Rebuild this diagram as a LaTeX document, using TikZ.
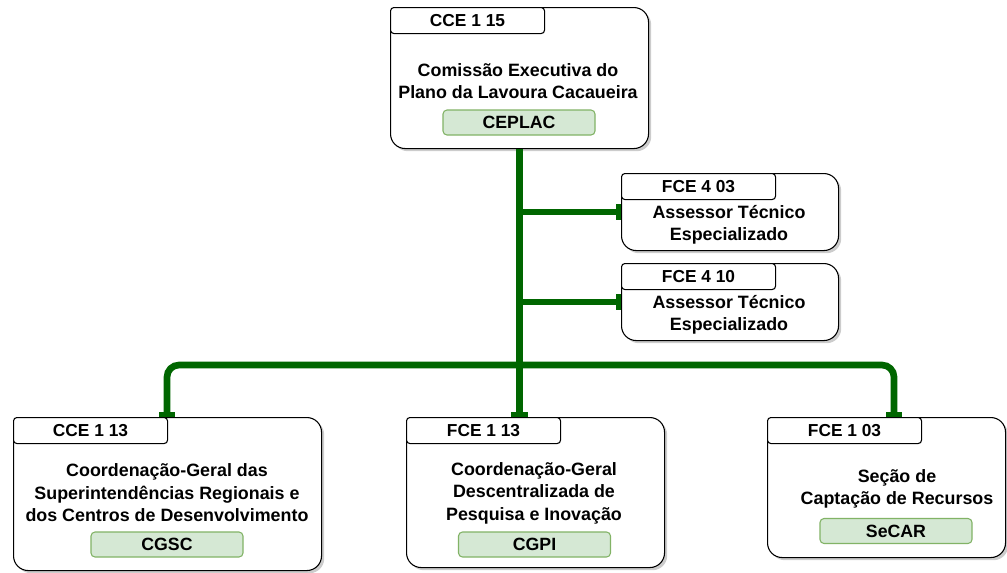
\documentclass[tikz,border=0pt]{standalone}
\usepackage{fontspec}
\setmainfont{Liberation Sans}
\usepackage{xcolor}
\usepackage{tikz}
\usetikzlibrary{positioning}
\usetikzlibrary{shadows}
\usetikzlibrary{arrows.meta}
\definecolor{VerdeCEPLAC}{HTML}{006600}
\definecolor{VerdeSigla}{HTML}{D5E8D4}
\definecolor{BordaSigla}{HTML}{82B366}

\begin{document}
\begin{tikzpicture}[
  x = .75pt, y = -.75pt,
  every node/.style = {font = \fontsize{13}{16.5}\selectfont\bfseries},
  unidade/.style 2 args = {
      draw, line width = .8pt, fill = white, rounded corners = 11pt,
      anchor = north west, inner sep = 0pt,
      minimum width = #1*.75pt, minimum height = #2*.75pt,
      drop shadow = {shadow xshift = 2pt, shadow yshift = -2pt, fill = black!40}
  },
  codigo/.style = {
      draw, line width = .8pt, fill = white, rounded corners = 2.5pt,
      anchor = north west, inner sep = 0pt,
      minimum width = 115.5pt, minimum height = 19.5pt
  },
  nome/.style = {align = center, inner sep = 0pt,
      font = \fontsize{13.4}{16.8}\selectfont\bfseries},
  sigla/.style = {
      draw = BordaSigla, line width = .8pt, fill = VerdeSigla, rounded corners = 3pt,
      inner sep = 0pt, minimum width = 114pt, minimum height = 18.75pt,
      font = \fontsize{13.3}{16}\selectfont\bfseries
  },
  ligacao/.style = {
      draw = VerdeCEPLAC, line width = 5pt,
      -{Rectangle[length = 3.5pt, width = 12.5pt, line width = 0pt]}
  }
]
  \useasboundingbox (0, 0) rectangle (1007, 572);

  % topo
  \node[unidade = {258}{141}] (ceplacBox) at (390, 7) {};
  \node[codigo] (ceplacCod) at (ceplacBox.north west) {CCE 1 15};
  \node[nome] (ceplacNome) at (518, 81) {Comissão Executiva do\\Plano da Lavoura Cacaueira};
  \node[sigla] (ceplac) at (519, 122.5) {CEPLAC};

  % assessores
  \foreach \n/\cod/\y in {1/FCE 4 03/173, 2/FCE 4 10/263} {
    \node[unidade = {217}{77}] (ast\n) at (621, \y) {};
    \node[codigo] (ast\n Cod) at (ast\n.north west) {\cod};
    \node[nome] (ast\n Nome) at (729, \y + 51.5) {Assessor Técnico\\Especializado};
  }

  % coordenacoes
  \node[unidade = {308}{153}] (cgscBox) at (13, 417) {};
  \node[codigo] (cgscCod) at (cgscBox.north west) {CCE 1 13};
  \node[nome] (cgscNome) at (167, 493) {Coordenação-Geral das\\Superintendências Regionais e\\dos Centros de Desenvolvimento};
  \node[sigla] (cgsc) at (167, 544.5) {CGSC};

  \node[unidade = {258}{150}] (cgpiBox) at (406, 417) {};
  \node[codigo] (cgpiCod) at (cgpiBox.north west) {FCE 1 13};
  \node[nome] (cgpiNome) at (534, 493) {Coordenação-Geral\\Descentralizada de\\Pesquisa e Inovação};
  \node[sigla] (cgpi) at (534.5, 544.5) {CGPI};

  \node[unidade = {238}{140}] (secarBox) at (767, 417) {};
  \node[codigo] (secarCod) at (secarBox.north west) {FCE 1 03};
  \node[nome] (secarNome) at (897, 489) {Seção de\\Captação de Recursos};
  \node[sigla] (secar) at (896, 531) {SeCAR};

  % ligacoes
  \coordinate (barra) at (518, 365);
  \coordinate (descE) at (167, 417);
  \coordinate (descD) at (894, 417);
  \draw[ligacao] (ceplacBox.south) -- (ceplacBox.south |- cgpiBox.north);
  \foreach \n in {1, 2}
  \draw[ligacao] (ceplacBox.south |- ast\n.west) -- (ast\n.west);
  \draw[ligacao, rounded corners = 9pt] (barra) -| (descE);
  \draw[ligacao, rounded corners = 9pt] (barra) -| (descD);
\end{tikzpicture}
\end{document}
